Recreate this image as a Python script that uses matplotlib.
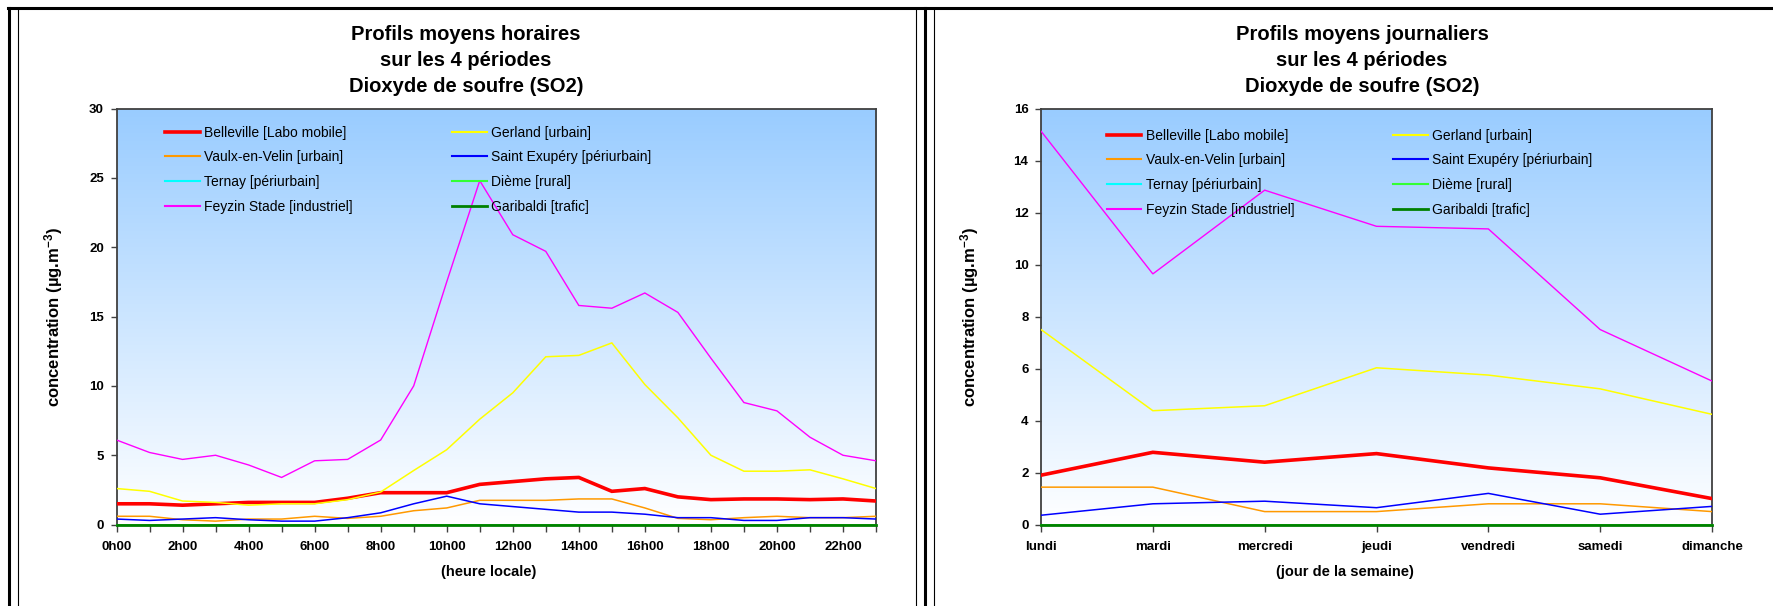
import matplotlib
matplotlib.use('Agg')
import matplotlib.pyplot as plt
import numpy as np
from matplotlib.lines import Line2D
from matplotlib.colors import LinearSegmentedColormap

plt.rcParams['font.family'] = ['Liberation Sans', 'DejaVu Sans']
plt.rcParams['mathtext.fontset'] = 'custom'
plt.rcParams['mathtext.rm'] = 'Liberation Sans:bold'
plt.rcParams['mathtext.bf'] = 'Liberation Sans:bold'
plt.rcParams['mathtext.default'] = 'bf'

# ---------------- data ----------------
hours = list(range(24))
hour_ticks = list(range(0, 24, 2))
hour_labels = [f"{h}h00" for h in hour_ticks]
days = ['lundi', 'mardi', 'mercredi', 'jeudi', 'vendredi', 'samedi', 'dimanche']

station_names = ['Belleville [Labo mobile]', 'Gerland [urbain]',
                 'Vaulx-en-Velin [urbain]', 'Saint Exupéry [périurbain]',
                 'Ternay [périurbain]', 'Dième [rural]',
                 'Feyzin Stade [industriel]', 'Garibaldi [trafic]']

# hourly profiles (µg/m3)
h_belleville = [1.5, 1.5, 1.4, 1.5, 1.6, 1.6, 1.6, 1.9, 2.3, 2.3, 2.3, 2.9,
                3.1, 3.3, 3.4, 2.4, 2.6, 2.0, 1.8, 1.85, 1.85, 1.8, 1.85, 1.7]
h_gerland = [2.6, 2.4, 1.7, 1.6, 1.4, 1.5, 1.5, 1.8, 2.35, 3.9, 5.4, 7.6,
             9.5, 12.1, 12.2, 13.1, 10.1, 7.7, 5.0, 3.85, 3.85, 3.95, 3.3, 2.6]
h_vaulx = [0.6, 0.6, 0.35, 0.25, 0.4, 0.4, 0.6, 0.45, 0.6, 1.0, 1.2, 1.75,
           1.75, 1.75, 1.85, 1.85, 1.2, 0.45, 0.35, 0.5, 0.6, 0.5, 0.5, 0.6]
h_stex = [0.4, 0.3, 0.4, 0.5, 0.35, 0.25, 0.25, 0.5, 0.85, 1.5, 2.05, 1.5,
          1.3, 1.1, 0.9, 0.9, 0.75, 0.5, 0.5, 0.3, 0.3, 0.5, 0.5, 0.4]
h_ternay = [None] * 24
h_dieme = [0.0] * 24
h_feyzin = [6.1, 5.2, 4.7, 5.0, 4.3, 3.4, 4.6, 4.7, 6.1, 10.0, 17.5, 24.8,
            20.9, 19.7, 15.8, 15.6, 16.7, 15.3, 12.0, 8.8, 8.2, 6.3, 5.0, 4.6]
h_garibaldi = [0.0] * 24

# daily profiles (µg/m3)
d_belleville = [1.9, 2.78, 2.4, 2.73, 2.18, 1.8, 1.0]
d_gerland = [7.5, 4.38, 4.57, 6.03, 5.75, 5.22, 4.24]
d_vaulx = [1.44, 1.44, 0.5, 0.5, 0.8, 0.8, 0.5]
d_stex = [0.36, 0.8, 0.9, 0.65, 1.2, 0.4, 0.7]
d_ternay = [None] * 7
d_dieme = [0.0] * 7
d_feyzin = [15.13, 9.64, 12.86, 11.47, 11.37, 7.5, 5.52]
d_garibaldi = [0.0] * 7

colors = ['#FF0000', '#FFFF00', '#FF9900', '#0000FF',
          '#00FFFF', '#33FF33', '#FF00FF', '#008000']
widths = [2.6, 1.1, 1.1, 1.1, 1.1, 1.4, 1.0, 2.0]

hourly = [h_belleville, h_gerland, h_vaulx, h_stex, h_ternay, h_dieme, h_feyzin, h_garibaldi]
daily = [d_belleville, d_gerland, d_vaulx, d_stex, d_ternay, d_dieme, d_feyzin, d_garibaldi]

W, H = 1773, 606
fig = plt.figure(figsize=(W / 100, H / 100), dpi=100)

def fx(px):
    return px / W

def fy(py):
    return 1 - py / H

grad_cmap = LinearSegmentedColormap.from_list('bg', ['#FFFFFF', '#99CCFF'])
grad = np.linspace(0, 1, 256).reshape(-1, 1)

def make_panel(rect, xvals, series, ymax, ystep, xticks, xticklabels, minor, legpos):
    ax = fig.add_axes(rect)
    ax.imshow(grad, cmap=grad_cmap, origin='lower', extent=[0, 1, 0, 1],
              transform=ax.transAxes, aspect='auto', zorder=0, interpolation='bilinear')
    lines = []
    for vals, c, lw, name in zip(series, colors, widths, station_names):
        y = np.array([np.nan if v is None else v for v in vals], dtype=float)
        clip = not (name.startswith('Garibaldi') or name.startswith('Dième'))
        ln, = ax.plot(xvals, y, color=c, lw=lw, label=name, zorder=3 if clip else 4,
                      clip_on=clip, solid_joinstyle='miter')
        lines.append(ln)
    ax.set_xlim(xvals[0], xvals[-1])
    ax.set_ylim(0, ymax)
    ax.set_yticks(np.arange(0, ymax + 0.01, ystep))
    ax.set_xticks(xticks)
    ax.set_xticklabels(xticklabels)
    if minor is not None:
        ax.set_xticks(minor, minor=True)
    for s in ax.spines.values():
        s.set_color('#404040')
        s.set_linewidth(1.3)
    ax.tick_params(axis='both', which='both', direction='out', color='#404040', width=1.0)
    ax.tick_params(axis='x', which='major', length=5, pad=7, labelsize=9.5)
    ax.tick_params(axis='x', which='minor', length=5)
    ax.tick_params(axis='y', length=4, pad=5, labelsize=9.5)
    for lab in ax.get_xticklabels() + ax.get_yticklabels():
        lab.set_fontweight('bold')
    # legend in two columns (row order as original)
    order_l = [0, 2, 4, 6]
    order_r = [1, 3, 5, 7]
    kw = dict(frameon=False, fontsize=10, handlelength=2.5, handletextpad=0.3,
              labelspacing=0.77, borderpad=0, borderaxespad=0, loc='center left')
    (x1, x2, yc) = legpos
    leg1 = ax.legend([lines[i] for i in order_l], [station_names[i] for i in order_l],
                     bbox_to_anchor=(x1, yc), **kw)
    ax.add_artist(leg1)
    leg2 = ax.legend([lines[i] for i in order_r], [station_names[i] for i in order_r],
                     bbox_to_anchor=(x2, yc), **kw)
    for lg in (leg1, leg2):
        for h in lg.get_lines():
            h.set_linewidth(max(h.get_linewidth(), 1.5))
    return ax

# left panel: hourly
axL = make_panel([fx(116.5), fy(524.6), fx(876 - 116.5), (524.6 - 108.5) / H],
                 hours, hourly, 30, 5, hour_ticks, hour_labels, hours,
                 (0.064, 0.442, 0.853))
# right panel: daily
axR = make_panel([fx(1041), fy(524.6), fx(1712 - 1041), (524.6 - 108.5) / H],
                 list(range(7)), daily, 16, 2, list(range(7)), days, None,
                 (0.098, 0.525, 0.846))

# titles
for cx, t1 in ((466, 'Profils moyens horaires'), (1362, 'Profils moyens journaliers')):
    for yy, txt in ((34, t1), (60, 'sur les 4 périodes'), (87, 'Dioxyde de soufre (SO2)')):
        fig.text(fx(cx), fy(yy), txt, ha='center', va='center', fontsize=14.5, fontweight='bold')

# axis labels
ylab = 'concentration (µg.m$^{-3}$)'
fig.text(fx(54), fy(317), ylab, rotation=90, ha='center', va='center', fontsize=12, fontweight='bold')
fig.text(fx(970), fy(317), ylab, rotation=90, ha='center', va='center', fontsize=12, fontweight='bold')
fig.text(fx(489), fy(572), '(heure locale)', ha='center', va='center', fontsize=10.5, fontweight='bold')
fig.text(fx(1345), fy(572), '(jour de la semaine)', ha='center', va='center', fontsize=10.5, fontweight='bold')

# frame lines of the original document
def vline(x, lw):
    fig.add_artist(Line2D([fx(x), fx(x)], [fy(8), 0], transform=fig.transFigure, color='black', lw=lw))

fig.add_artist(Line2D([fx(8), 1], [fy(8), fy(8)], transform=fig.transFigure, color='black', lw=2.2))
vline(9, 2.2)
vline(18, 0.8)
vline(915.7, 0.8)
vline(925, 2.2)
vline(934, 0.8)

fig.savefig('out.png', dpi=100)
